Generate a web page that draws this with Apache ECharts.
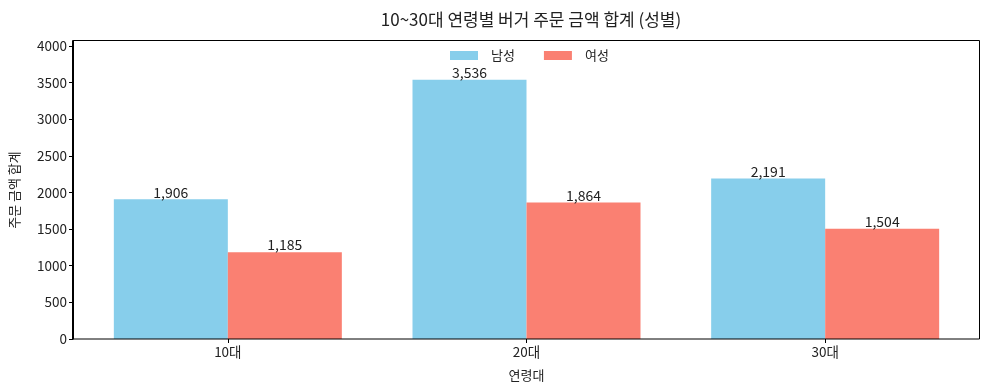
<!DOCTYPE html>
<html>
<head>
<meta charset="utf-8">
<script src="https://cdn.jsdelivr.net/npm/echarts@6/dist/echarts.min.js"></script>
<style>html,body{margin:0;padding:0;background:#fff}#c{width:989px;height:390px}</style>
</head>
<body>
<div id="c"></div>
<script>
const categories = ['10대', '20대', '30대'];
const maleValues = [1906, 3536, 2191];
const femaleValues = [1185, 1864, 1504];
const seriesNames = ['남성', '여성'];
const yMax = Math.max(...maleValues, ...femaleValues) * 1.15;

const FONT = '"Noto Sans CJK KR", sans-serif';
const chart = echarts.init(document.getElementById('c'), null, {renderer: 'canvas'});
const labelCfg = {
  show: true, position: 'top', distance: 0, color: '#222', fontSize: 14, fontFamily: FONT,
  formatter: p => p.value.toLocaleString('en-US')
};
chart.setOption({
  animation: false,
  backgroundColor: '#fff',
  title: {
    text: '10~30대 연령별 버거 주문 금액 합계 (성별)',
    left: 526, top: 6, textAlign: 'center',
    textStyle: {fontSize: 17, fontWeight: 'normal', color: '#222', fontFamily: FONT}
  },
  legend: {
    top: 44, left: 445, itemWidth: 28, itemHeight: 9, itemGap: 29,
    icon: 'rect',
    textStyle: {fontSize: 13, color: '#222', fontFamily: FONT, padding: [0, 0, 0, 8]},
    data: seriesNames
  },
  graphic: [{
    type: 'rect', z: 100, silent: true,
    shape: {x: 72.5, y: 40.5, width: 907, height: 298.5},
    style: {fill: 'none', stroke: '#000', lineWidth: 1}
  }],
  grid: {left: 77.5, right: 14.5, top: 41, bottom: 51},
  xAxis: {
    type: 'category', data: categories,
    name: '연령대', nameLocation: 'middle', nameGap: 30,
    nameTextStyle: {fontSize: 13, color: '#222', fontFamily: FONT},
    axisLine: {show: false},
    axisTick: {show: true, alignWithLabel: true, length: 4, lineStyle: {color: '#000'}},
    axisLabel: {fontSize: 13.5, color: '#222', fontFamily: FONT, margin: 6}
  },
  yAxis: {
    type: 'value', min: 0, max: yMax, interval: 500, offset: 5.5,
    name: '주문 금액 합계', nameLocation: 'middle', nameGap: 52,
    nameTextStyle: {fontSize: 13, color: '#222', fontFamily: FONT},
    splitLine: {show: false},
    axisLine: {show: true, lineStyle: {color: '#000'}},
    axisTick: {show: true, length: 4, lineStyle: {color: '#000'}},
    axisLabel: {fontSize: 13.5, color: '#222', fontFamily: FONT, margin: 6, showMaxLabel: false,
                formatter: v => String(v)}
  },
  series: [
    {name: seriesNames[0], type: 'bar', data: maleValues, barWidth: 114, barGap: '0%',
     itemStyle: {color: '#87CEEB'}, label: labelCfg},
    {name: seriesNames[1], type: 'bar', data: femaleValues, barWidth: 114, barGap: '0%',
     itemStyle: {color: '#FA8072'}, label: labelCfg}
  ]
});
</script>
</body>
</html>
